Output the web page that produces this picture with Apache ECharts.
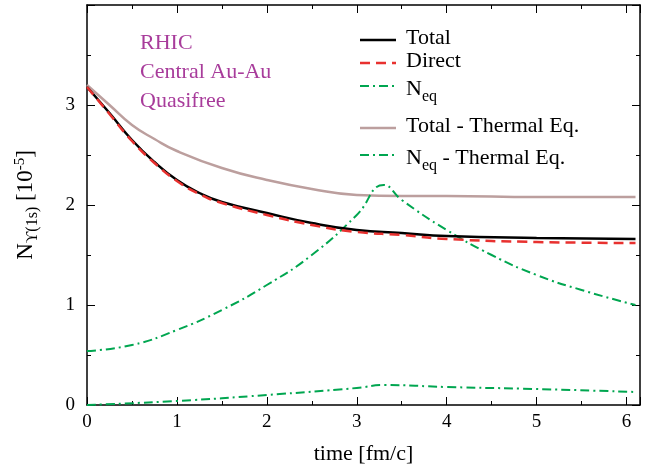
<!DOCTYPE html>
<html><head><meta charset="utf-8">
<script src="https://cdn.jsdelivr.net/npm/echarts@6/dist/echarts.min.js"></script>
<style>html,body{margin:0;background:#fff}#c{width:653px;height:472px}</style>
</head><body><div id="c"></div>
<script>
var totalData = [[0,3.18],[0.25,2.92],[0.5,2.65],[0.75,2.43],[1,2.25],[1.25,2.12],[1.5,2.03],[2,1.92],[2.5,1.82],[3,1.75],[3.5,1.72],[4,1.69],[5,1.67],[6.1,1.66]];
var directData = [[0,3.18],[0.25,2.91],[0.5,2.64],[0.75,2.42],[1,2.24],[1.25,2.11],[1.5,2.02],[2,1.9],[2.5,1.8],[3,1.73],[3.5,1.7],[4,1.66],[5,1.63],[6.1,1.62]];
var neqData = [[0,0],[1,0.04],[2,0.1],[3,0.17],[3.3,0.2],[4,0.18],[5,0.16],[6.1,0.13]];
var totalThData = [[0,3.2],[0.25,3.0],[0.5,2.8],[0.75,2.66],[1,2.54],[1.5,2.37],[2,2.25],[2.5,2.16],[3,2.1],[3.5,2.09],[4,2.09],[5,2.08],[6.1,2.08]];
var neqThData = [[0,0.54],[0.5,0.6],[1,0.75],[1.5,0.95],[2,1.2],[2.5,1.5],[3,1.9],[3.3,2.2],[3.5,2.05],[4,1.75],[4.5,1.5],[5,1.3],[5.5,1.15],[6.1,1.0]];
var labelsText = ['RHIC', 'Central Au-Au', 'Quasifree'];
var legendNames = ['Total', 'Direct', 'N{s|eq}', 'Total - Thermal Eq.', 'N{s|eq}{a| - Thermal Eq.}'];

var chart = echarts.init(document.getElementById('c'));
var font = 'Liberation Serif';
var dashDot = [9, 4, 2, 4];
var styles = [
  { color: '#000', type: 'solid', w: 2.5 },
  { color: '#e8312f', type: [10, 6], w: 2.5 },
  { color: '#00a650', type: dashDot, w: 2 },
  { color: '#bc9f9e', type: 'solid', w: 2.5 },
  { color: '#00a650', type: dashDot, w: 2 }
];
function line(data, s) {
  return { type: 'line', data: data, showSymbol: false, smooth: true,
    lineStyle: { color: s.color, width: s.w, type: s.type } };
}
var axisCommon = {
  axisLine: { onZero: false, lineStyle: { color: '#000', width: 1.5 } },
  axisTick: { inside: true, length: 8, lineStyle: { color: '#000' } },
  minorTick: { show: true, splitNumber: 2, length: 4, lineStyle: { color: '#000' } },
  splitLine: { show: false }
};
var legendY = [40, 63, 86, 128, 155];
var graphics = [];
labelsText.forEach(function (t, i) {
  graphics.push({ type: 'text', left: 140, top: 32 + i * 29, style: { text: t, fontSize: 22, fontFamily: font, fill: '#a83c9b' } });
});
legendNames.forEach(function (t, i) {
  var s = styles[i];
  graphics.push({ type: 'line', shape: { x1: 360, y1: legendY[i], x2: 396, y2: legendY[i] },
    style: { stroke: s.color, lineWidth: s.w, lineDash: s.type === 'solid' ? null : s.type } });
  graphics.push({ type: 'text', x: 406, y: legendY[i] - 13, style: { text: t, fontSize: 22, fontFamily: font, fill: '#000',
    rich: { a: { fontSize: 22, fontFamily: font }, s: { fontSize: 16, fontFamily: font, padding: [16, 0, 0, 0] } } } });
});
chart.setOption({
  animation: false,
  textStyle: { fontFamily: font },
  grid: { left: 87, right: 13, top: 5, bottom: 67 },
  xAxis: [Object.assign({ type: 'value', min: 0, max: 6.15, interval: 1,
    name: 'time [fm/c]', nameLocation: 'middle', nameGap: 38,
    nameTextStyle: { fontSize: 22, color: '#000', fontFamily: font },
    axisLabel: { fontSize: 19, color: '#000', fontFamily: font, margin: 8, formatter: function (v) { return v > 6 ? '' : v; } }
  }, axisCommon), Object.assign({ type: 'value', min: 0, max: 6.15, interval: 1, position: 'top', axisLabel: { show: false } }, axisCommon)],
  yAxis: [Object.assign({ type: 'value', min: 0, max: 4, interval: 1,
    name: '{a|N}{s|ϒ(1s)}{a| [10}{p|-5}{a|]}', nameLocation: 'middle', nameGap: 46,
    nameTextStyle: { color: '#000', fontFamily: font, rich: {
      a: { fontSize: 23, fontFamily: font }, s: { fontSize: 16, fontFamily: font, padding: [14, 0, 0, 0] },
      p: { fontSize: 15, fontFamily: font, padding: [0, 0, 12, 0] } } },
    axisLabel: { fontSize: 19, color: '#000', fontFamily: font, margin: 12, formatter: function (v) { return v > 3 ? '' : v; } }
  }, axisCommon), Object.assign({ type: 'value', min: 0, max: 4, interval: 1, position: 'right', axisLabel: { show: false } }, axisCommon)],
  graphic: graphics,
  series: [
    line(totalThData, styles[3]),
    line(neqThData, styles[4]),
    line(neqData, styles[2]),
    line(totalData, styles[0]),
    line(directData, styles[1])
  ]
});
</script></body></html>
